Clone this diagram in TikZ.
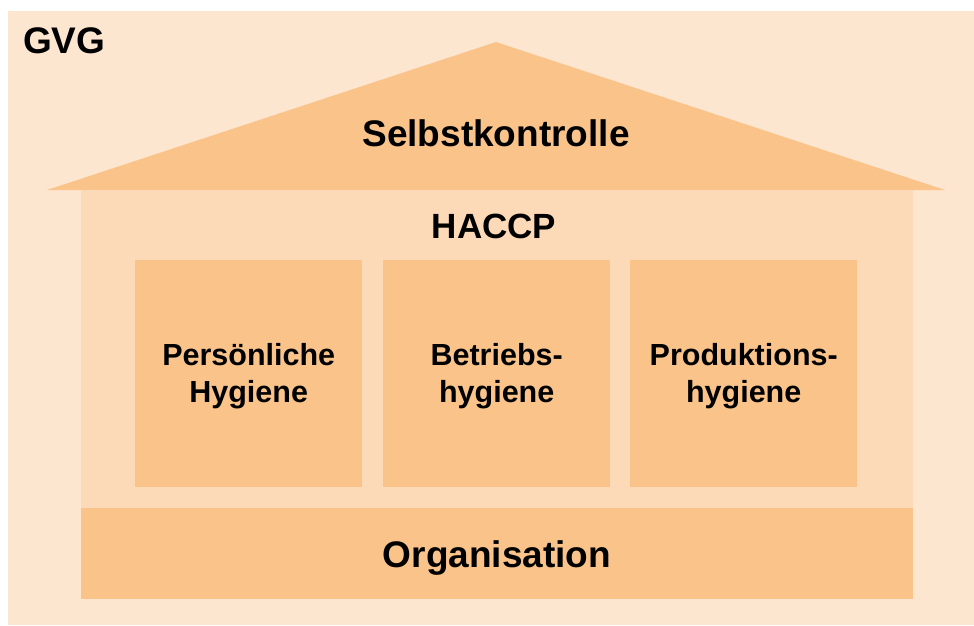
\documentclass[tikz,border=0pt]{standalone}
\usepackage{fontspec}
\setmainfont{Liberation Sans}
\definecolor{bgc}{RGB}{253,230,208}
\definecolor{bodyc}{RGB}{252,218,184}
\definecolor{darkc}{RGB}{249,195,138}
\begin{document}
\begin{tikzpicture}[x=1pt,y=-1pt,
  big/.style={font=\fontsize{37}{42}\selectfont\bfseries, inner sep=0pt},
  boxtxt/.style={font=\fontsize{30.5}{37}\selectfont\bfseries, align=center, inner sep=0pt},
  pillar/.style={fill=darkc, draw=none, minimum width=227pt, minimum height=227pt, inner sep=0pt, anchor=north west}]
\useasboundingbox (0,0) rectangle (974,625);
\fill[white] (0,0) rectangle (974,625);
% background
\fill[bgc] (8,11) rectangle (974,625);
% roof
\fill[darkc] (47,190) -- (496,42) -- (945,190) -- cycle;
% body
\fill[bodyc] (81,190) rectangle (913,508);
% organisation
\node[fill=darkc, minimum width=832pt, minimum height=91pt, inner sep=0pt, anchor=north west] (org) at (81,508) {};
% pillars
\node[pillar] (p1) at (135,260) {};
\node[pillar] (p2) at (383,260) {};
\node[pillar] (p3) at (630,260) {};
% texts
\node[big, anchor=base west] (gvg) at (23,53) {GVG};
\node[big, anchor=base] (selbst) at (496,146) {Selbstkontrolle};
\node[big, anchor=base, font=\fontsize{35}{40}\selectfont\bfseries] (haccp) at (494,238) {HACCP};
\node[big, anchor=base] (orgt) at (497,567) {Organisation};
\node[boxtxt] (t1) at ([yshift=-2pt]p1.center) {Persönliche\\Hygiene};
\node[boxtxt] (t2) at ([yshift=-2pt]p2.center) {Betriebs-\\hygiene};
\node[boxtxt] (t3) at ([yshift=-2pt]p3.center) {Produktions-\\hygiene};
\end{tikzpicture}
\end{document}
